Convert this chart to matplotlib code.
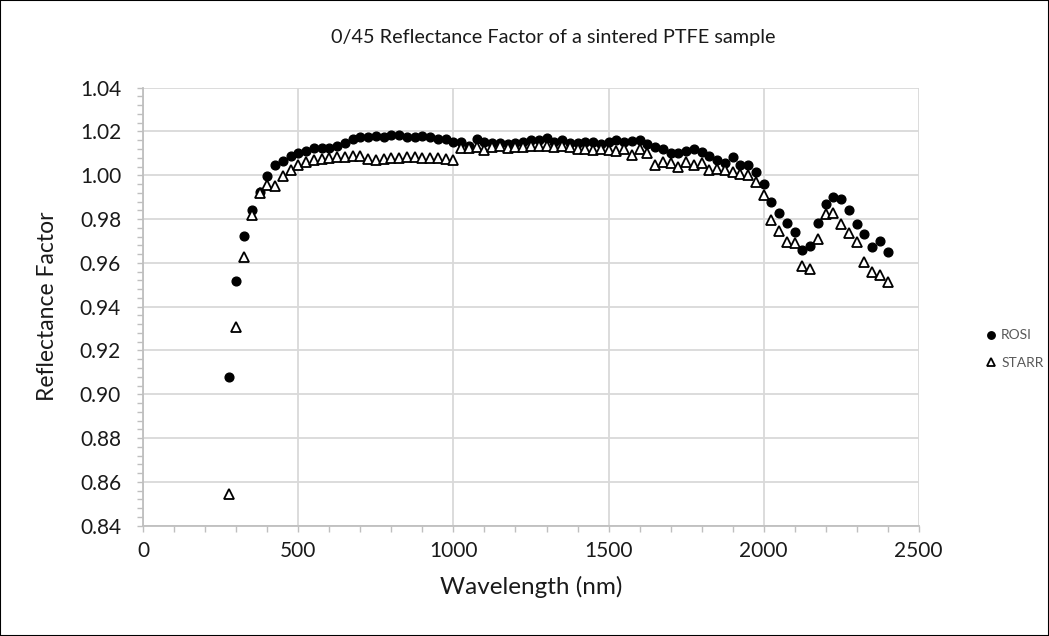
import matplotlib
matplotlib.use("Agg")
import matplotlib.pyplot as plt
from matplotlib.ticker import MultipleLocator, FormatStrFormatter
from matplotlib.patches import Rectangle

plt.rcParams['font.family'] = ['Lato', 'DejaVu Sans']

wavelength = [275, 300, 325, 350, 375, 400, 425, 450, 475, 500,
              525, 550, 575, 600, 625, 650, 675, 700, 725, 750,
              775, 800, 825, 850, 875, 900, 925, 950, 975, 1000,
              1025, 1050, 1075, 1100, 1125, 1150, 1175, 1200, 1225, 1250,
              1275, 1300, 1325, 1350, 1375, 1400, 1425, 1450, 1475, 1500,
              1525, 1550, 1575, 1600, 1625, 1650, 1675, 1700, 1725, 1750,
              1775, 1800, 1825, 1850, 1875, 1900, 1925, 1950, 1975, 2000,
              2025, 2050, 2075, 2100, 2125, 2150, 2175, 2200, 2225, 2250,
              2275, 2300, 2325, 2350, 2375, 2400]

rosi = [0.9081, 0.9518, 0.9721, 0.9840, 0.9925, 0.9995, 1.0045, 1.0067, 1.0086, 1.0101,
        1.0112, 1.0124, 1.0124, 1.0124, 1.0134, 1.0149, 1.0165, 1.0174, 1.0177, 1.0180,
        1.0177, 1.0186, 1.0186, 1.0177, 1.0175, 1.0180, 1.0173, 1.0166, 1.0168, 1.0154,
        1.0150, 1.0133, 1.0165, 1.0154, 1.0149, 1.0147, 1.0142, 1.0147, 1.0154, 1.0159,
        1.0159, 1.0170, 1.0154, 1.0162, 1.0147, 1.0147, 1.0151, 1.0152, 1.0145, 1.0150,
        1.0162, 1.0154, 1.0156, 1.0163, 1.0145, 1.0129, 1.0118, 1.0102, 1.0101, 1.0112,
        1.0122, 1.0105, 1.0086, 1.0072, 1.0057, 1.0083, 1.0046, 1.0045, 1.0015, 0.9961,
        0.9876, 0.9828, 0.9782, 0.9741, 0.9661, 0.9676, 0.9782, 0.9869, 0.9901, 0.9893,
        0.9843, 0.9779, 0.9732, 0.9671, 0.9702, 0.9650]

starr = [0.8544, 0.9307, 0.9627, 0.9820, 0.9920, 0.9955, 0.9949, 0.9995, 1.0022, 1.0045,
         1.0062, 1.0072, 1.0076, 1.0080, 1.0084, 1.0085, 1.0086, 1.0088, 1.0074, 1.0071,
         1.0075, 1.0081, 1.0080, 1.0082, 1.0082, 1.0080, 1.0078, 1.0078, 1.0075, 1.0070,
         1.0124, 1.0124, 1.0131, 1.0116, 1.0130, 1.0132, 1.0124, 1.0128, 1.0131, 1.0135,
         1.0136, 1.0133, 1.0131, 1.0132, 1.0131, 1.0119, 1.0119, 1.0115, 1.0120, 1.0115,
         1.0110, 1.0120, 1.0091, 1.0120, 1.0101, 1.0045, 1.0063, 1.0056, 1.0040, 1.0060,
         1.0045, 1.0056, 1.0025, 1.0030, 1.0025, 1.0017, 1.0005, 1.0002, 0.9969, 0.9911,
         0.9797, 0.9747, 0.9696, 0.9691, 0.9586, 0.9572, 0.9711, 0.9823, 0.9828, 0.9778,
         0.9737, 0.9696, 0.9605, 0.9557, 0.9547, 0.9512]

title = "0/45 Reflectance Factor of a sintered PTFE sample"
xlabel = "Wavelength (nm)"
ylabel = "Reflectance Factor"

W, H = 1049, 636
fig = plt.figure(figsize=(W / 100, H / 100), dpi=100)
fig.patches.append(Rectangle((0, 0), 1, 1, transform=fig.transFigure,
                             fill=False, edgecolor='black', linewidth=1.5))

ax = fig.add_axes([143.3 / W, (H - 525.7) / H, (918.7 - 143.3) / W, (525.7 - 87.7) / H])

ax.plot(wavelength, rosi, linestyle='none', marker='o', markersize=6.3,
        color='black', label='ROSI', zorder=3)
ax.plot(wavelength, starr, linestyle='none', marker='^', markersize=6.5,
        markerfacecolor='white', markeredgecolor='black', markeredgewidth=1.3,
        label='STARR', zorder=3)

ax.set_xlim(0, 2500)
ax.set_ylim(0.84, 1.04)
ax.xaxis.set_major_locator(MultipleLocator(500))
ax.xaxis.set_minor_locator(MultipleLocator(100))
ax.yaxis.set_major_locator(MultipleLocator(0.02))
ax.yaxis.set_minor_locator(MultipleLocator(0.004))
ax.yaxis.set_major_formatter(FormatStrFormatter('%.2f'))

grid_c = '#d9d9d9'
axis_c = '#bfbfbf'
ax.grid(True, which='major', color=grid_c, linewidth=1.3, zorder=0)
ax.set_axisbelow(True)
for s in ['top', 'right']:
    ax.spines[s].set_visible(False)
for s in ['left', 'bottom']:
    ax.spines[s].set_color(axis_c)
    ax.spines[s].set_linewidth(1.3)

ax.tick_params(axis='both', which='both', direction='out', color=axis_c, width=1.0)
ax.tick_params(axis='both', which='major', length=4, labelsize=15, labelcolor='#1a1a1a')
ax.tick_params(axis='both', which='minor', length=4)
ax.tick_params(axis='y', which='major', pad=12)
ax.tick_params(axis='x', which='major', pad=7)

ax.set_xlabel(xlabel, fontsize=17.5, color='#1a1a1a', labelpad=11)
ax.set_ylabel(ylabel, fontsize=16.5, color='#1a1a1a', labelpad=16)
fig.text(553 / W, 1 - 38 / H, title, ha='center', va='center', fontsize=14.3, color='#1a1a1a')

leg = fig.legend(loc='center left', bbox_to_anchor=(972 / W, 1 - 349 / H), frameon=False,
                 fontsize=10, labelcolor='#595959', handletextpad=0.2, markerscale=0.85,
                 labelspacing=1.1, handlelength=1.0)

fig.savefig('out.png', dpi=100)
